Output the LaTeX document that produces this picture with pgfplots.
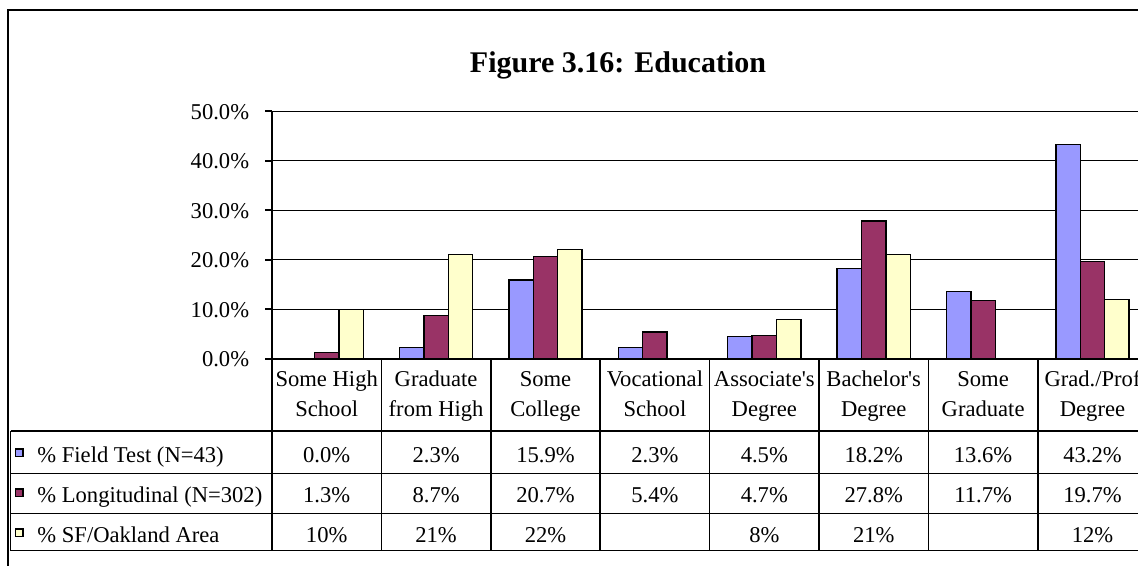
\documentclass[border=0pt]{standalone}
\usepackage{pgfplots}
\pgfplotsset{compat=1.18}
\usepackage{fontspec}
\setmainfont{Liberation Serif}
\definecolor{cField}{HTML}{9999FF}
\definecolor{cLong}{HTML}{993366}
\definecolor{cSF}{HTML}{FFFFCC}
\newcommand{\tfont}{\fontsize{11.3}{15}\selectfont}
\begin{document}
\begin{tikzpicture}
\useasboundingbox (0,0) rectangle (569pt,-283pt);
\clip (0,0) rectangle (569pt,-283pt);
\begin{scope}[x=0.5pt,y=-0.5pt]
  \draw[line width=1pt] (8,700) -- (8,10.5) -- (1300,10.5);
  \node[font=\fontsize{15}{18}\selectfont\bfseries, anchor=base, inner sep=0pt] at (618,72.7) {Figure 3.16: Education};
\end{scope}
\begin{axis}[
  at={(136pt,-179.4pt)}, anchor=south west,
  width=437.6pt, height=123.9pt, scale only axis,
  xmin=-0.5, xmax=7.5, ymin=0, ymax=50,
  axis lines*=left,
  axis line style={line width=1pt, black},
  ymajorgrids, grid style={black, line width=0.5pt},
  tick align=outside, major tick length=3.5pt,
  ytick={0,10,20,30,40,50},
  yticklabels={0.0\%,10.0\%,20.0\%,30.0\%,40.0\%,50.0\%},
  ytick style={line width=1pt, black},
  yticklabel style={font=\tfont, anchor=base east, inner sep=0pt, xshift=-7.75pt, yshift=-4pt},
  xtick={0,...,7},
  xticklabels={{Some High\\School},{Graduate\\from High},{Some\\College},{Vocational\\School},{Associate\textquotesingle s\\Degree},{Bachelor\textquotesingle s\\Degree},{Some\\Graduate},{Grad./Prof\\Degree}},
  xtick style={draw=none},
  xticklabel style={font=\tfont, align=center, anchor=base, inner sep=0pt, yshift=-25.45pt},
  ybar=0pt, bar width=12.2pt,
  clip=false,
]
\addplot[draw=black, line width=0.65pt, fill=cField] coordinates {(1,2.3) (2,15.9) (3,2.3) (4,4.5) (5,18.2) (6,13.6) (7,43.2)};
\addplot[draw=black, line width=0.65pt, fill=cLong] coordinates {(0,1.3) (1,8.7) (2,20.7) (3,5.4) (4,4.7) (5,27.8) (6,11.7) (7,19.7)};
\addplot[draw=black, line width=0.65pt, fill=cSF] coordinates {(0,10) (1,21) (2,22) (4,8) (5,21) (7,12)};
\end{axis}
\begin{scope}[x=0.5pt,y=-0.5pt]
  % table grid
  \foreach \k in {1,...,8} \draw[line width=0.75pt] ({272+109.4*\k},358.8) -- ({272+109.4*\k},550.7);
  \draw[line width=0.75pt] (272,358.8) -- (272,550.7);
  \draw[line width=0.75pt] (10.5,431) -- (1300,431);
  \draw[line width=0.5pt] (10.5,473.3) -- (1300,473.3);
  \draw[line width=0.5pt] (10.5,513.7) -- (1300,513.7);
  \draw[line width=0.75pt] (10.5,550.7) -- (1300,550.7);
  \draw[line width=0.75pt] (10.5,431) -- (10.5,550.7);
  % legend keys
  \draw[line width=0.8pt, fill=cField] (15.5,449) rectangle (23,456.5);
  \draw[line width=0.8pt, fill=cLong] (15.5,489) rectangle (23,496.5);
  \draw[line width=0.8pt, fill=cSF] (15.5,529) rectangle (23,536.5);
  \node[font=\tfont, anchor=base west, inner sep=0pt] at (37,462.7) {\% Field Test (N=43)};
  \node[font=\tfont, anchor=base west, inner sep=0pt] at (37,502.7) {\% Longitudinal (N=302)};
  \node[font=\tfont, anchor=base west, inner sep=0pt] at (37,542.7) {\% SF/Oakland Area};
  % values
  \foreach \v [count=\i from 0] in {{0.0\%},{2.3\%},{15.9\%},{2.3\%},{4.5\%},{18.2\%},{13.6\%},{43.2\%}}
    \node[font=\tfont, anchor=base, inner sep=0pt] at ({272+109.4*(\i+0.5)},462.7) {\v};
  \foreach \v [count=\i from 0] in {{1.3\%},{8.7\%},{20.7\%},{5.4\%},{4.7\%},{27.8\%},{11.7\%},{19.7\%}}
    \node[font=\tfont, anchor=base, inner sep=0pt] at ({272+109.4*(\i+0.5)},502.7) {\v};
  \foreach \v [count=\i from 0] in {{10\%},{21\%},{22\%},{},{8\%},{21\%},{},{12\%}}
    \node[font=\tfont, anchor=base, inner sep=0pt] at ({272+109.4*(\i+0.5)},542.7) {\v};
\end{scope}
\end{tikzpicture}
\end{document}
